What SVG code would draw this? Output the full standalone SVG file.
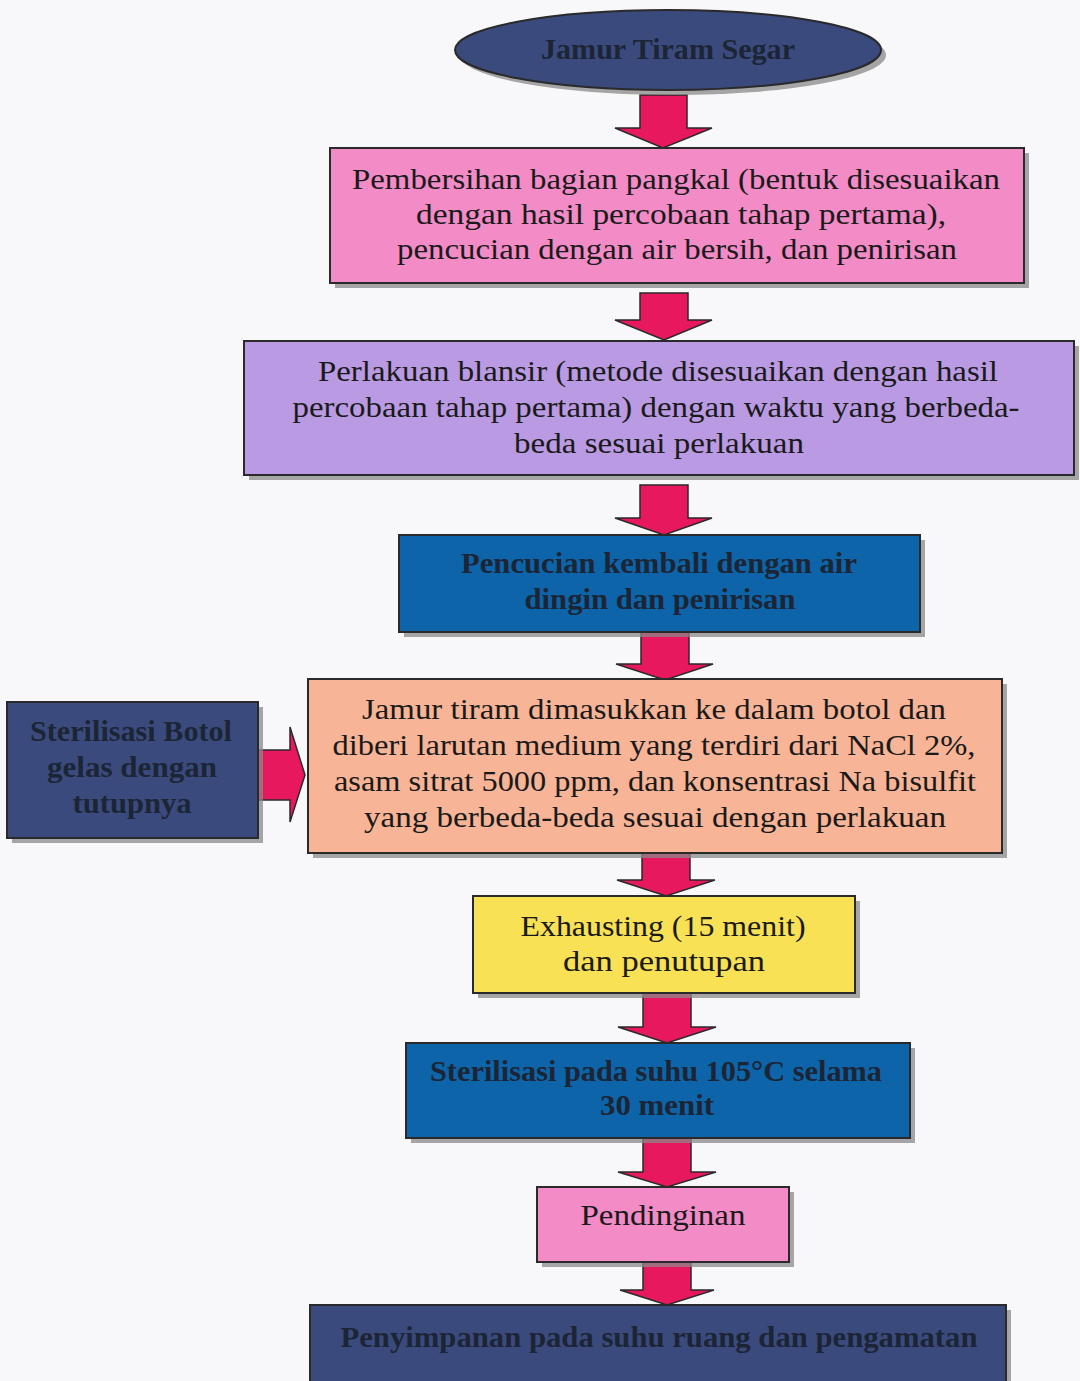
<svg xmlns="http://www.w3.org/2000/svg" width="1080" height="1381" viewBox="0 0 1080 1381">
<style>
.bx{stroke:#2a2a2a;stroke-width:2}
.sh{fill:#8a8a8a;opacity:0.75}
.ar{fill:#e8185e;stroke:#2a2a2a;stroke-width:1.5;stroke-linejoin:miter}
.t{font-family:"Liberation Serif","DejaVu Serif",serif;font-size:29px;fill:#1a1a1a;text-anchor:middle}
.d{fill:#1c2535;font-weight:bold}
.pink{fill:#f28bc6}
.purple{fill:#b99ae3}
.blue{fill:#0d64a8}
.salmon{fill:#f7b496}
.navy{fill:#3b4a7d}
.yellow{fill:#f8e155}
</style>
<rect width="1080" height="1381" fill="#f8f8fa"/>
<g id="connectors">
<path class="ar" d="M640,95 H687 V128 H712 L663,148 L615,128 H640 Z"/>
<path class="ar" d="M640,293 H688 V320 H712 L664,340 L615,320 H640 Z"/>
<path class="ar" d="M640,485 H688 V518 H712 L664,535 L615,518 H640 Z"/>
<path class="ar" d="M641,632 H689 V664 H713 L665,680 L616,664 H641 Z"/>
<path class="ar" d="M642,847 H690 V880 H715 L666,896 L617,880 H642 Z"/>
<path class="ar" d="M643,993 H691 V1027 H716 L667,1043 L618,1027 H643 Z"/>
<path class="ar" d="M643,1138 H691 V1172 H716 L667,1187 L618,1172 H643 Z"/>
<path class="ar" d="M643,1262 H691 V1290 H714 L667,1305 L620,1290 H643 Z"/>
<path class="ar" d="M258,750 H290 V727 L305,775 L290,822 V800 H258 Z"/>
</g>
<g id="n0">
<ellipse class="sh" cx="673" cy="55" rx="213" ry="40"/>
<ellipse class="bx navy" cx="668" cy="50" rx="213" ry="40"/>
<text class="t d" x="668" y="59" textLength="254" lengthAdjust="spacingAndGlyphs">Jamur Tiram Segar</text>
</g>
<g id="n1">
<rect class="sh" x="335" y="153" width="694" height="135"/>
<rect class="bx pink" x="330" y="148" width="694" height="135"/>
<text class="t" x="676" y="189" textLength="648" lengthAdjust="spacingAndGlyphs">Pembersihan bagian pangkal (bentuk disesuaikan</text>
<text class="t" x="681" y="224" textLength="530" lengthAdjust="spacingAndGlyphs">dengan hasil percobaan tahap pertama),</text>
<text class="t" x="677" y="259" textLength="560" lengthAdjust="spacingAndGlyphs">pencucian dengan air bersih, dan penirisan</text>
</g>
<g id="n2">
<rect class="sh" x="249" y="346" width="830" height="134"/>
<rect class="bx purple" x="244" y="341" width="830" height="134"/>
<text class="t" x="658" y="381" textLength="680" lengthAdjust="spacingAndGlyphs">Perlakuan blansir (metode disesuaikan dengan hasil</text>
<text class="t" x="656" y="417" textLength="727" lengthAdjust="spacingAndGlyphs">percobaan tahap pertama) dengan waktu yang berbeda-</text>
<text class="t" x="659" y="453" textLength="290" lengthAdjust="spacingAndGlyphs">beda sesuai perlakuan</text>
</g>
<g id="n3">
<rect class="sh" x="404" y="540" width="521" height="97"/>
<rect class="bx blue" x="399" y="535" width="521" height="97"/>
<text class="t d" x="659" y="573" textLength="396" lengthAdjust="spacingAndGlyphs">Pencucian kembali dengan air</text>
<text class="t d" x="660" y="609" textLength="271" lengthAdjust="spacingAndGlyphs">dingin dan penirisan</text>
</g>
<g id="n4">
<rect class="sh" x="313" y="684" width="694" height="174"/>
<rect class="bx salmon" x="308" y="679" width="694" height="174"/>
<text class="t" x="654" y="719" textLength="584" lengthAdjust="spacingAndGlyphs">Jamur tiram dimasukkan ke dalam botol dan</text>
<text class="t" x="654" y="755" textLength="643" lengthAdjust="spacingAndGlyphs">diberi larutan medium yang terdiri dari NaCl 2%,</text>
<text class="t" x="655" y="791" textLength="642" lengthAdjust="spacingAndGlyphs">asam sitrat 5000 ppm, dan konsentrasi Na bisulfit</text>
<text class="t" x="655" y="827" textLength="582" lengthAdjust="spacingAndGlyphs">yang berbeda-beda sesuai dengan perlakuan</text>
</g>
<g id="n5">
<rect class="sh" x="12" y="707" width="251" height="136"/>
<rect class="bx navy" x="7" y="702" width="251" height="136"/>
<text class="t d" x="131" y="741" textLength="202" lengthAdjust="spacingAndGlyphs">Sterilisasi Botol</text>
<text class="t d" x="132" y="777" textLength="170" lengthAdjust="spacingAndGlyphs">gelas dengan</text>
<text class="t d" x="132" y="813" textLength="119" lengthAdjust="spacingAndGlyphs">tutupnya</text>
</g>
<g id="n6">
<rect class="sh" x="478" y="901" width="382" height="97"/>
<rect class="bx yellow" x="473" y="896" width="382" height="97"/>
<text class="t" x="663" y="936" textLength="285" lengthAdjust="spacingAndGlyphs">Exhausting (15 menit)</text>
<text class="t" x="664" y="971" textLength="202" lengthAdjust="spacingAndGlyphs">dan penutupan</text>
</g>
<g id="n7">
<rect class="sh" x="411" y="1048" width="504" height="95"/>
<rect class="bx blue" x="406" y="1043" width="504" height="95"/>
<text class="t d" x="656" y="1081" textLength="452" lengthAdjust="spacingAndGlyphs">Sterilisasi pada suhu 105°C selama</text>
<text class="t d" x="657" y="1115" textLength="114" lengthAdjust="spacingAndGlyphs">30 menit</text>
</g>
<g id="n8">
<rect class="sh" x="542" y="1192" width="252" height="75"/>
<rect class="bx pink" x="537" y="1187" width="252" height="75"/>
<text class="t" x="663" y="1225" textLength="165" lengthAdjust="spacingAndGlyphs">Pendinginan</text>
</g>
<g id="n9">
<rect class="sh" x="315" y="1310" width="696" height="80"/>
<rect class="bx navy" x="310" y="1305" width="696" height="85"/>
<text class="t d" x="659" y="1347" textLength="637" lengthAdjust="spacingAndGlyphs">Penyimpanan pada suhu ruang dan pengamatan</text>
</g>
</svg>
